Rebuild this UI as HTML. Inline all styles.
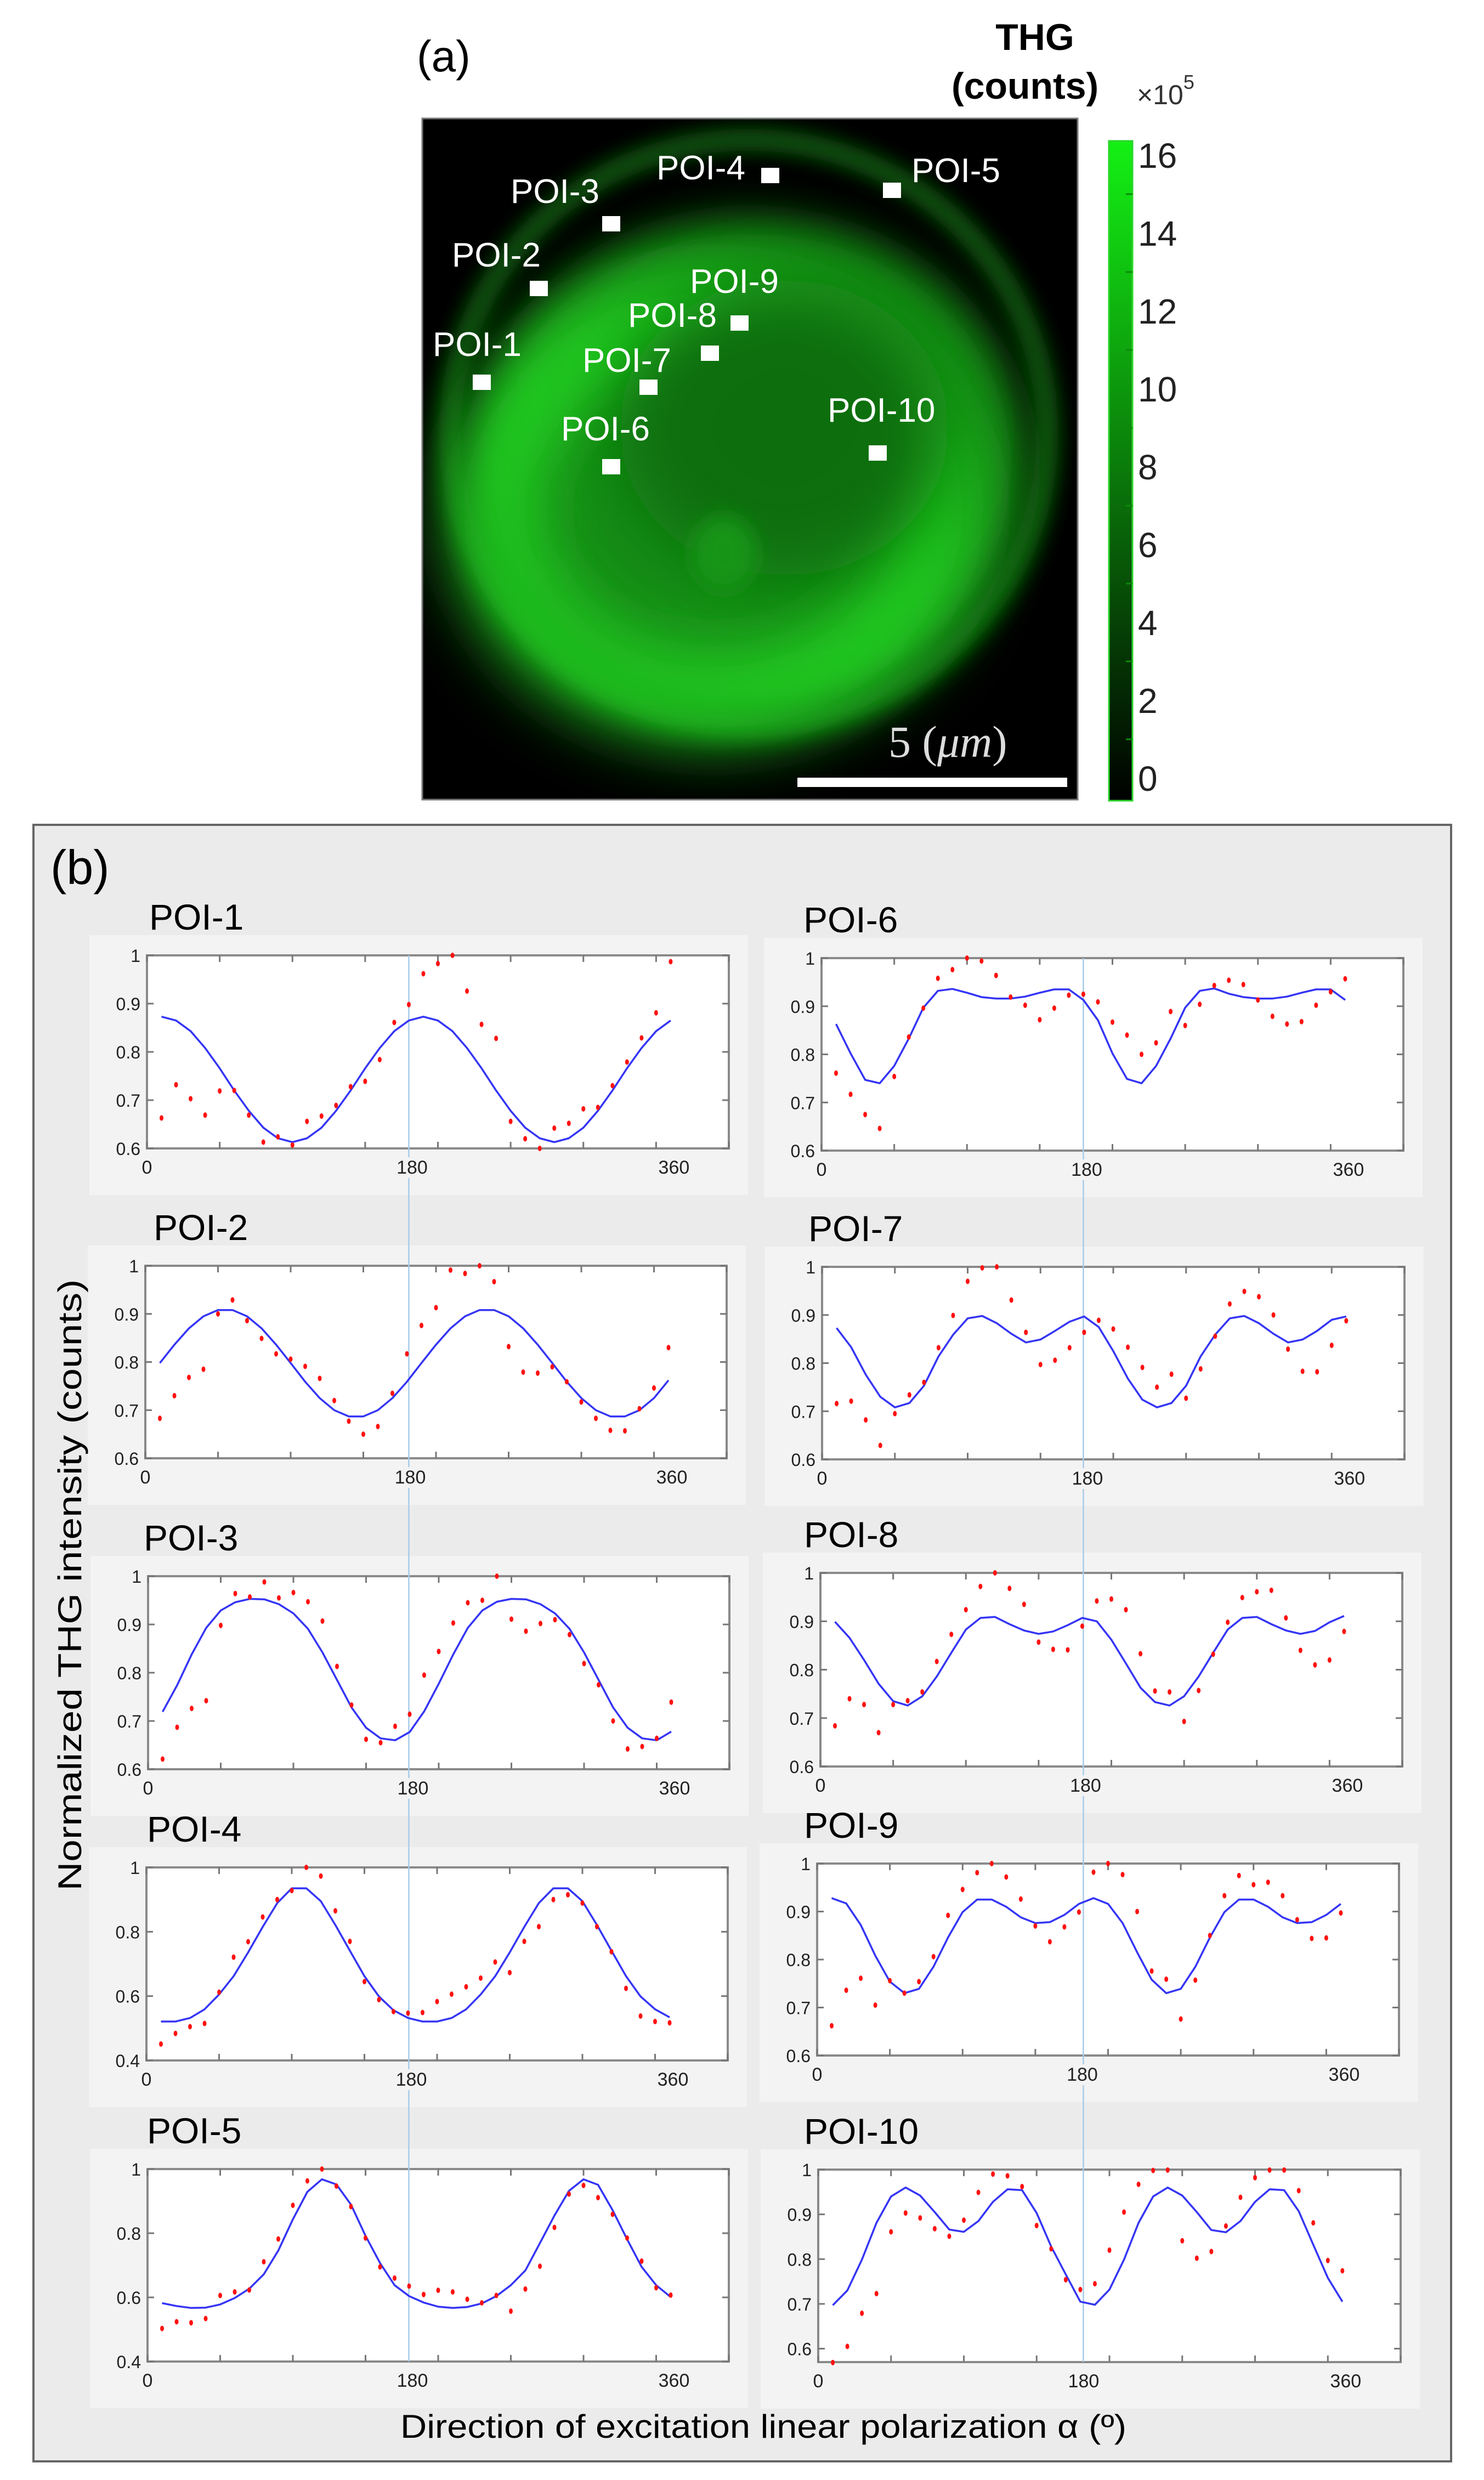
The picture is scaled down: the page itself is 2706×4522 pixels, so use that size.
<!DOCTYPE html>
<html>
<head>
<meta charset="utf-8">
<style>
html,body{margin:0;padding:0;background:#fff;}
svg{display:block;font-family:"Liberation Sans",Arial,sans-serif;}
</style>
</head>
<body>
<svg id="fig" width="2706" height="4522" viewBox="0 0 2706 4522" xmlns="http://www.w3.org/2000/svg">
<defs>
  <linearGradient id="cbgrad" x1="0" y1="1" x2="0" y2="0">
    <stop offset="0" stop-color="#000000"/>
    <stop offset="0.5" stop-color="#0a7a0a"/>
    <stop offset="1" stop-color="#14f014"/>
  </linearGradient>
  <filter id="blur40" x="-50%" y="-50%" width="200%" height="200%"><feGaussianBlur stdDeviation="40"/></filter>
  <filter id="blur60" x="-50%" y="-50%" width="200%" height="200%"><feGaussianBlur stdDeviation="60"/></filter>
  <filter id="blur20" x="-50%" y="-50%" width="200%" height="200%"><feGaussianBlur stdDeviation="18"/></filter>
  <clipPath id="imgclip"><rect x="770" y="216" width="1195" height="1242"/></clipPath>
</defs>

<g>
  <text x="760" y="130" font-size="80">(a)</text>
  <g clip-path="url(#imgclip)">
    <rect x="770" y="216" width="1195" height="1242" fill="#000"/>
    <ellipse cx="1365" cy="790" rx="545" ry="535" fill="none" stroke="#0f5a0f" stroke-width="40" filter="url(#blur20)"/>
    <ellipse cx="1370" cy="850" rx="500" ry="450" fill="#168c16" filter="url(#blur40)"/>
    <ellipse cx="1300" cy="930" rx="400" ry="345" fill="none" stroke="#22d022" stroke-width="150" filter="url(#blur60)"/>
    <ellipse cx="1430" cy="780" rx="300" ry="270" fill="#116e11" filter="url(#blur60)"/>
    <ellipse cx="1320" cy="1010" rx="60" ry="70" fill="#169416" filter="url(#blur20)"/>
  </g>
  <rect x="770" y="216" width="1195" height="1242" fill="none" stroke="#777" stroke-width="3"/>
  <g id="poiMarkers"></g>
  <rect x="1454" y="1418" width="492" height="17" fill="#fff"/>
  <text x="1620" y="1380" font-size="82" fill="#dddddd" font-family="Liberation Serif, serif">5 (<tspan font-style="italic">μm</tspan>)</text>

  <g>
    <rect x="2022" y="257" width="43" height="1203" fill="url(#cbgrad)" stroke="#2bd52b" stroke-width="3"/>
    <g id="cbTicks"></g>
  </g>
  <text x="1887" y="91" font-size="68" font-weight="bold" text-anchor="middle">THG</text>
  <text x="1735" y="180" font-size="68" font-weight="bold">(counts)</text>
  <text x="2073" y="190" font-size="50" fill="#333">×10<tspan dy="-28" font-size="36">5</tspan></text>
</g>

<g>
  <rect x="61" y="1504" width="2585" height="2984" fill="#ebebeb" stroke="#666" stroke-width="4"/>
  <text x="92" y="1612" font-size="88">(b)</text>
  <g id="plotsBack"></g>
  <g id="refLines"></g>
  <g id="plots"></g>
  <text transform="translate(148,2890) rotate(-90)" font-size="60" text-anchor="middle" textLength="1115" lengthAdjust="spacingAndGlyphs">Normalized THG intensity (counts)</text>
  <text x="1392" y="4445" font-size="60" text-anchor="middle" textLength="1324" lengthAdjust="spacingAndGlyphs">Direction of excitation linear polarization α (º)</text>
</g>
</svg>

<script>
const angles=[10,20,30,40,50,60,70,80,90,100,110,120,130,140,150,160,170,180,190,200,210,220,230,240,250,260,270,280,290,300,310,320,330,340,350,360];

const poi1Measured=[0.663,0.732,0.703,0.669,0.719,0.720,0.669,0.613,0.624,0.607,0.656,0.667,0.689,0.728,0.739,0.784,0.861,0.898,0.962,0.983,1.0,0.926,0.857,0.828,0.656,0.620,0.600,0.642,0.652,0.682,0.685,0.730,0.779,0.829,0.881,0.987];
const poi1Fit=[0.873,0.865,0.843,0.808,0.766,0.720,0.678,0.643,0.621,0.613,0.621,0.643,0.678,0.720,0.766,0.808,0.843,0.865,0.873,0.865,0.843,0.808,0.766,0.720,0.678,0.643,0.621,0.613,0.621,0.643,0.678,0.720,0.766,0.808,0.843,0.865];

const poi2Measured=[0.683,0.730,0.768,0.785,0.900,0.929,0.886,0.849,0.817,0.806,0.791,0.766,0.720,0.677,0.650,0.666,0.735,0.817,0.876,0.913,0.991,0.984,1.0,0.967,0.832,0.779,0.777,0.790,0.759,0.717,0.683,0.658,0.657,0.703,0.746,0.830];
const poi2Fit=[0.798,0.836,0.870,0.895,0.908,0.908,0.895,0.870,0.836,0.798,0.759,0.725,0.700,0.687,0.687,0.700,0.725,0.759,0.798,0.836,0.870,0.895,0.908,0.908,0.895,0.870,0.836,0.798,0.759,0.725,0.700,0.687,0.687,0.700,0.725,0.762];

const poi3Measured=[0.621,0.687,0.726,0.742,0.898,0.964,0.957,0.988,0.955,0.966,0.947,0.907,0.813,0.733,0.662,0.655,0.689,0.714,0.795,0.844,0.903,0.945,0.950,1.0,0.911,0.886,0.902,0.910,0.879,0.819,0.775,0.700,0.642,0.647,0.664,0.739];
const poi3Fit=[0.719,0.774,0.838,0.893,0.929,0.946,0.953,0.952,0.942,0.923,0.891,0.842,0.785,0.728,0.686,0.664,0.660,0.677,0.720,0.777,0.838,0.893,0.929,0.947,0.953,0.952,0.942,0.923,0.891,0.842,0.785,0.728,0.686,0.664,0.660,0.678];

const poi4Measured=[0.451,0.484,0.505,0.515,0.612,0.721,0.769,0.846,0.900,0.928,1.0,0.973,0.865,0.770,0.645,0.589,0.552,0.547,0.549,0.583,0.606,0.629,0.656,0.706,0.673,0.770,0.816,0.900,0.915,0.889,0.816,0.738,0.624,0.538,0.521,0.517];
const poi4Fit=[0.521,0.521,0.532,0.559,0.605,0.662,0.736,0.815,0.889,0.935,0.935,0.895,0.821,0.741,0.662,0.599,0.556,0.532,0.521,0.521,0.532,0.559,0.605,0.662,0.736,0.815,0.889,0.935,0.935,0.895,0.821,0.741,0.662,0.599,0.559,0.534];

const poi5Measured=[0.503,0.524,0.521,0.534,0.606,0.617,0.623,0.711,0.782,0.887,0.963,1.0,0.947,0.883,0.785,0.695,0.660,0.635,0.609,0.622,0.617,0.594,0.583,0.606,0.557,0.626,0.697,0.818,0.922,0.949,0.911,0.859,0.785,0.713,0.630,0.607];
const poi5Fit=[0.582,0.573,0.567,0.568,0.578,0.598,0.627,0.672,0.746,0.843,0.929,0.968,0.952,0.889,0.792,0.707,0.638,0.604,0.584,0.571,0.567,0.570,0.581,0.604,0.638,0.684,0.769,0.855,0.932,0.968,0.951,0.872,0.781,0.695,0.638,0.601];

const poi6Measured=[0.761,0.717,0.675,0.646,0.754,0.836,0.896,0.958,0.976,1.0,0.994,0.964,0.919,0.902,0.872,0.896,0.923,0.925,0.909,0.867,0.840,0.800,0.824,0.889,0.860,0.904,0.943,0.954,0.945,0.913,0.879,0.863,0.868,0.902,0.930,0.957];
const poi6Fit=[0.863,0.802,0.747,0.740,0.776,0.833,0.897,0.932,0.936,0.928,0.919,0.916,0.916,0.920,0.928,0.935,0.935,0.913,0.871,0.802,0.749,0.740,0.776,0.833,0.897,0.932,0.937,0.926,0.919,0.916,0.916,0.920,0.928,0.935,0.935,0.913];

const poi7Measured=[0.716,0.721,0.682,0.629,0.695,0.734,0.760,0.832,0.899,0.970,0.998,1.0,0.931,0.864,0.797,0.806,0.832,0.864,0.889,0.871,0.833,0.791,0.750,0.777,0.727,0.788,0.856,0.923,0.949,0.938,0.900,0.829,0.783,0.782,0.837,0.888];
const poi7Fit=[0.873,0.833,0.776,0.730,0.708,0.717,0.753,0.814,0.859,0.893,0.898,0.883,0.861,0.843,0.849,0.867,0.886,0.897,0.875,0.825,0.768,0.724,0.708,0.717,0.753,0.814,0.859,0.893,0.898,0.883,0.861,0.843,0.849,0.867,0.890,0.897];

const poi8Measured=[0.684,0.740,0.728,0.670,0.728,0.736,0.754,0.817,0.873,0.924,0.972,1.0,0.968,0.935,0.857,0.842,0.841,0.890,0.942,0.946,0.924,0.833,0.756,0.754,0.693,0.757,0.832,0.898,0.949,0.961,0.964,0.907,0.840,0.810,0.820,0.879];
const poi8Fit=[0.899,0.866,0.820,0.771,0.735,0.726,0.745,0.786,0.835,0.883,0.907,0.909,0.894,0.881,0.874,0.879,0.892,0.907,0.900,0.862,0.813,0.763,0.733,0.726,0.745,0.786,0.835,0.883,0.907,0.909,0.894,0.881,0.874,0.880,0.898,0.911];

const poi9Measured=[0.662,0.736,0.761,0.705,0.756,0.730,0.754,0.806,0.892,0.946,0.981,1.0,0.972,0.926,0.870,0.837,0.868,0.899,0.982,1.0,0.977,0.900,0.776,0.759,0.676,0.757,0.850,0.933,0.975,0.956,0.961,0.933,0.883,0.844,0.845,0.897];
const poi9Fit=[0.928,0.917,0.872,0.808,0.754,0.730,0.739,0.785,0.846,0.899,0.925,0.925,0.910,0.888,0.876,0.878,0.893,0.916,0.928,0.916,0.876,0.815,0.758,0.730,0.739,0.785,0.846,0.899,0.925,0.925,0.910,0.888,0.876,0.878,0.893,0.916];

const poi10Measured=[0.569,0.605,0.679,0.723,0.861,0.903,0.892,0.868,0.851,0.887,0.949,0.990,0.986,0.962,0.875,0.823,0.754,0.732,0.745,0.820,0.905,0.967,0.998,0.999,0.841,0.802,0.817,0.874,0.938,0.982,0.999,0.999,0.953,0.881,0.797,0.774];
const poi10Fit=[0.697,0.730,0.799,0.881,0.940,0.960,0.942,0.905,0.866,0.861,0.885,0.928,0.956,0.954,0.903,0.828,0.766,0.705,0.698,0.732,0.799,0.881,0.940,0.960,0.942,0.905,0.865,0.860,0.885,0.928,0.956,0.954,0.907,0.832,0.758,0.705];

const poiNames=["POI-1","POI-2","POI-3","POI-4","POI-5","POI-6","POI-7","POI-8","POI-9","POI-10"];
const yMins=[0.6,0.6,0.6,0.4,0.4,0.6,0.6,0.6,0.6,0.57];
const yTicksFine=[0.6,0.7,0.8,0.9,1.0];
const yTickLabelsFine=["0.6","0.7","0.8","0.9","1"];
const yTicksCoarse=[0.4,0.6,0.8,1.0];
const yTickLabelsCoarse=["0.4","0.6","0.8","1"];
const xTickMarks=[0,50,100,150,200,250,300,350,400];
const xTickValues=[0,180,360];
const xTickLabels=["0","180","360"];
const xMax=400;
const colorbarValues=[0,2,4,6,8,10,12,14,16];
const colorbarLabels=["0","2","4","6","8","10","12","14","16"];

const boxes=[
 {l:268,r:1329,t:1742,b:2094},{l:265,r:1325,t:2308,b:2659},{l:270,r:1330,t:2874,b:3226},
 {l:267,r:1327,t:3405,b:3757},{l:269,r:1329,t:3955,b:4306},
 {l:1498,r:2559,t:1747,b:2098},{l:1499,r:2561,t:2310,b:2661},{l:1496,r:2557,t:2868,b:3221},
 {l:1490,r:2551,t:3398,b:3748},{l:1492,r:2554,t:3956,b:4307}];
const titleX=[272,280,262,268,268,1465,1474,1466,1466,1466];
const poiLabelPos=[[789,649],[824,486],[931,370],[1197,327],[1662,332],[1023,803],[1062,678],[1145,596],[1258,534],[1509,769]];
const poiMarkerPos=[[862,683],[966,512],[1098,394],[1388,306],[1610,333],[1098,837],[1166,692],[1332,575],[1278,630],[1584,812]];

const NS="http://www.w3.org/2000/svg";
function mk(tag,attrs,parent){const e=document.createElementNS(NS,tag);for(const k in attrs)e.setAttribute(k,attrs[k]);if(parent)parent.appendChild(e);return e;}

const pm=document.getElementById('poiMarkers');
poiNames.forEach((n,i)=>{
  const t=mk('text',{x:poiLabelPos[i][0],y:poiLabelPos[i][1],'font-size':62,fill:'#fff'},pm);
  
  
  t.textContent=n;
  const r=mk('rect',{x:poiMarkerPos[i][0],y:poiMarkerPos[i][1],width:33,height:28,fill:'#fff'},pm);
  
  
});

const cb=document.getElementById('cbTicks');
function cbY(v){return 1419-(v/16)*(1419-283);}
colorbarValues.forEach((v,i)=>{
  const t=mk('text',{x:2075,y:cbY(v)+23,'font-size':64,fill:'#222'},cb);
  
  
  t.textContent=colorbarLabels[i];
  if(v<16){
    const m=mk('line',{x1:2053,x2:2065,y1:cbY(v+1),y2:cbY(v+1),stroke:'#0a8a0a','stroke-width':3},cb);
    
    
  }
});

const measured=[poi1Measured,poi2Measured,poi3Measured,poi4Measured,poi5Measured,poi6Measured,poi7Measured,poi8Measured,poi9Measured,poi10Measured];
const fits=[poi1Fit,poi2Fit,poi3Fit,poi4Fit,poi5Fit,poi6Fit,poi7Fit,poi8Fit,poi9Fit,poi10Fit];
const back=document.getElementById('plotsBack');
const plots=document.getElementById('plots');
const refs=document.getElementById('refLines');
function xs(p,v){return p.l+(v/xMax)*(p.r-p.l);}
function ys(p,ymin,v){return p.b-(v-ymin)/(1-ymin)*(p.b-p.t);}

// pass 1: backgrounds and axes boxes
boxes.forEach((p,i)=>{
  const bg=mk('rect',{x:p.l-105,y:p.t-37,width:p.r-p.l+140,height:p.b-p.t+122,fill:'#f3f3f3'},back);
  
  
  const ax=mk('rect',{x:p.l,y:p.t,width:p.r-p.l,height:p.b-p.t,fill:'#fff',stroke:'#8a8a8a','stroke-width':4},back);
  
  
});

// reference lines at 180°
[[0,4],[5,9]].forEach(([a,b])=>{
  const x=xs(boxes[a],180);
  const l=mk('line',{x1:x,x2:x,y1:boxes[a].t,y2:boxes[b].b,stroke:'#a8cbe8','stroke-width':2.5},refs);
  
  
});

// pass 2: ticks, labels, series
boxes.forEach((p,i)=>{
  const ymin=yMins[i];
  const g=mk('g',{},plots);
  
  
  const title=mk('text',{x:titleX[i],y:p.t-47,'font-size':66},g);
  
  
  title.textContent=poiNames[i];
  xTickMarks.forEach(v=>{
    const x=xs(p,v);
    const a=mk('line',{x1:x,x2:x,y1:p.b,y2:p.b-12,stroke:'#777','stroke-width':3},g);
    
    
    const b=mk('line',{x1:x,x2:x,y1:p.t,y2:p.t+12,stroke:'#777','stroke-width':3},g);
    
    
  });
  xTickValues.forEach((v,k)=>{
    const bgr=mk('rect',{x:xs(p,v)+(v===0?0:6)-32,y:p.b+16,width:64,height:38,fill:'#f3f3f3'},g);
    
    
    const t=mk('text',{x:xs(p,v)+(v===0?0:6),y:p.b+46,'font-size':34,'text-anchor':'middle',fill:'#222'},g);
    
    
    t.textContent=xTickLabels[k];
  });
  const coarse=(ymin===0.4);
  const yt=coarse?yTicksCoarse:yTicksFine;
  const yl=coarse?yTickLabelsCoarse:yTickLabelsFine;
  yt.forEach((v,k)=>{
    const y=ys(p,ymin,v);
    const a=mk('line',{x1:p.l,x2:p.l+12,y1:y,y2:y,stroke:'#777','stroke-width':3},g);
    
    
    const b=mk('line',{x1:p.r,x2:p.r-12,y1:y,y2:y,stroke:'#777','stroke-width':3},g);
    
    
    const t=mk('text',{x:p.l-12,y:y+12,'font-size':32,'text-anchor':'end',fill:'#222'},g);
    
    
    t.textContent=yl[k];
  });
  const d=fits[i].map((v,k)=>(k?'L':'M')+xs(p,angles[k]).toFixed(1)+' '+ys(p,ymin,v).toFixed(1)).join(' ');
  const line=mk('path',{d:d,fill:'none',stroke:'#3535f5','stroke-width':3.5,'stroke-linejoin':'round'},g);
  
  
  measured[i].forEach((v,k)=>{
    const c=mk('ellipse',{cx:xs(p,angles[k]),cy:ys(p,ymin,v),rx:3.5,ry:5,fill:'#ff1010'},g);
    
    
  });
});
</script>
</body>
</html>
